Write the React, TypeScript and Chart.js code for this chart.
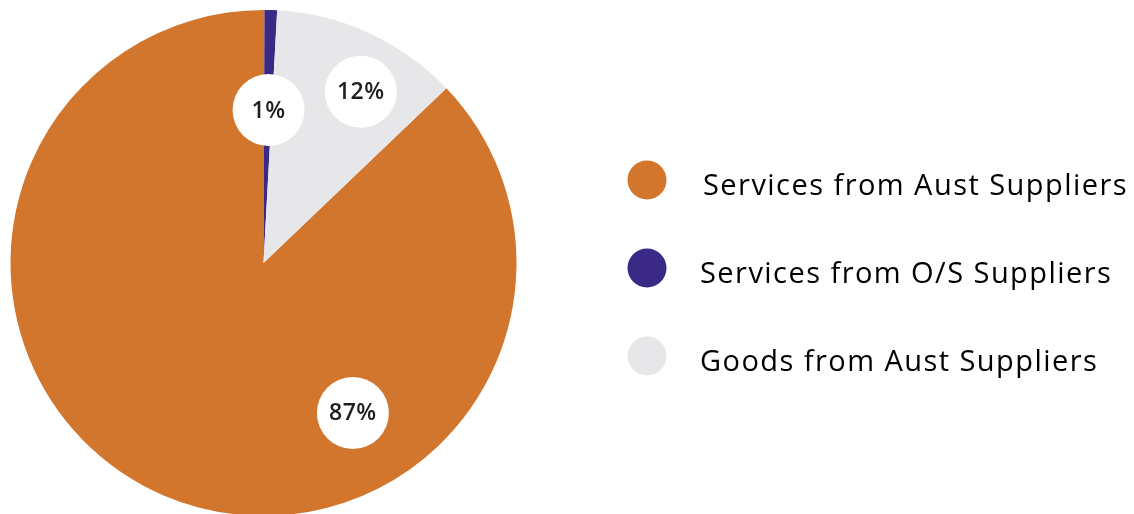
import React, { useEffect, useRef } from "react";
import { Chart, registerables } from "chart.js";

Chart.register(...registerables);

const categories = [
  "Services from Aust Suppliers",
  "Services from O/S Suppliers",
  "Goods from Aust Suppliers",
];
const values = [87.2, 0.8, 12.0];
const valueLabels = ["87%", "1%", "12%"];
const colors = ["#D2762D", "#3A2A85", "#E7E7EA"];

// label placement (degrees clockwise from top, fraction of radius)
const labelAngles = [149.2, 1.9, 29.6];
const labelRadii = [0.69, 0.605, 0.778];

const FONT = "'Open Sans', 'DejaVu Sans', sans-serif";

const labelPlugin = {
  id: "valueBadges",
  afterDatasetsDraw(chart: any) {
    const meta = chart.getDatasetMeta(0);
    const arc = meta.data[0];
    if (!arc) return;
    const { x, y, outerRadius } = arc.getProps(["x", "y", "outerRadius"], true);
    const ctx = chart.ctx;
    ctx.save();
    valueLabels.forEach((t, i) => {
      const a = (labelAngles[i] * Math.PI) / 180;
      const r = outerRadius * labelRadii[i];
      const cx = x + Math.sin(a) * r;
      const cy = y - Math.cos(a) * r;
      ctx.beginPath();
      ctx.arc(cx, cy, 36, 0, Math.PI * 2);
      ctx.fillStyle = "#FFFFFF";
      ctx.fill();
      ctx.fillStyle = "#1E1E1E";
      ctx.font = `600 23px ${FONT}`;
      (ctx as any).letterSpacing = "0.5px";
      ctx.textAlign = "center";
      ctx.textBaseline = "middle";
      ctx.fillText(t, cx, cy + 1);
    });
    ctx.restore();
  },
};

const legendPlugin = {
  id: "sideLegend",
  afterDraw(chart: any) {
    const ctx = chart.ctx;
    const ds = chart.data.datasets[0];
    ctx.save();
    chart.data.labels.forEach((lab: string, i: number) => {
      const cy = 180 + i * 88;
      ctx.beginPath();
      ctx.arc(647, cy, 19.5, 0, Math.PI * 2);
      ctx.fillStyle = ds.backgroundColor[i];
      ctx.fill();
      ctx.fillStyle = "#000000";
      ctx.font = `400 29px ${FONT}`;
      (ctx as any).letterSpacing = "1.45px";
      ctx.textAlign = "left";
      ctx.textBaseline = "alphabetic";
      ctx.fillText(lab, i === 0 ? 703 : 700, cy + 15);
    });
    ctx.restore();
  },
};

export default function App() {
  const ref = useRef<HTMLCanvasElement | null>(null);
  useEffect(() => {
    if (!ref.current) return;
    const chart = new Chart(ref.current, {
      type: "pie",
      data: {
        labels: categories,
        datasets: [
          {
            data: values,
            backgroundColor: colors,
            borderWidth: 0,
          },
        ],
      },
      options: {
        responsive: false,
        animation: false,
        rotation: 46.3,
        layout: { padding: { left: 10, top: 10, right: 617, bottom: 14 } },
        plugins: {
          legend: { display: false },
          tooltip: { enabled: false },
        },
      },
      plugins: [labelPlugin, legendPlugin],
    });
    return () => chart.destroy();
  }, []);
  return (
    <div
      style={{
        position: "fixed",
        left: 0,
        top: 0,
        width: 1134,
        height: 514,
        overflow: "hidden",
        background: "#FFFFFF",
      }}
    >
      <canvas ref={ref} width={1134} height={530} style={{ display: "block" }} />
    </div>
  );
}
